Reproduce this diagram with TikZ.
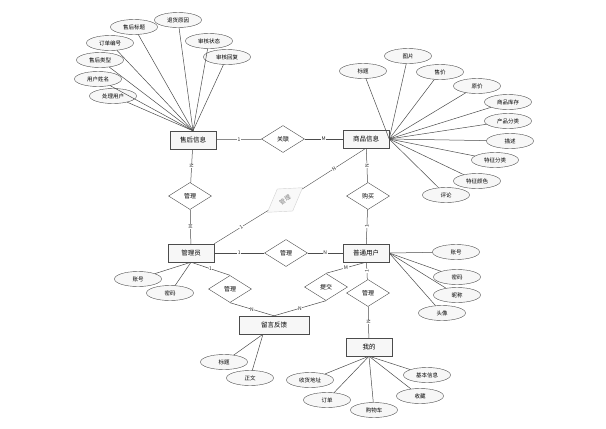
\documentclass[tikz,border=0pt]{standalone}
\usepackage{fontspec}
\setmainfont{Noto Sans CJK SC}
\usetikzlibrary{shapes.geometric,calc,shadows}
\begin{document}
\begin{tikzpicture}[x=1pt,y=-1pt,
 ent/.style={draw=gray!60!black, fill=gray!6, minimum width=46pt, minimum height=18pt, inner sep=0pt, font=\fontsize{6.5}{7}\selectfont, drop shadow={shadow xshift=0.8pt, shadow yshift=-0.8pt, opacity=0.3}},
 attr/.style={ellipse, draw=gray!60!black, fill=gray!6, minimum width=47pt, minimum height=15pt, inner sep=0pt, font=\fontsize{5.5}{6}\selectfont},
 rel/.style={diamond, draw=gray!60!black, fill=white, minimum width=43pt, minimum height=27pt, inner sep=0pt, font=\fontsize{6}{7}\selectfont},
 faint/.style={diamond, draw=gray!35, fill=gray!5, text=gray, minimum width=43pt, minimum height=27pt, inner sep=0pt, font=\fontsize{6}{7}\selectfont, rotate=35},
 ln/.style={draw=gray!60!black, line width=0.5pt},
 card/.style={fill=white, inner sep=0.5pt, font=\fontsize{5}{5}\selectfont, text=gray!30!black},
 vcard/.style={card, rotate=90}]
\useasboundingbox (0,0) rectangle (606,429);
\fill[white] (0,0) rectangle (606,429);

% entities
\node[ent] (sh) at (193,140) {售后信息};
\node[ent] (sp) at (366,139) {商品信息};
\node[ent] (gly) at (191,253) {管理员};
\node[ent] (pt) at (366,253) {普通用户};
\node[ent, minimum width=70pt] (ly) at (274,325) {留言反馈};
\node[ent] (wd) at (369,347) {我的};

% relationships
\node[rel] (gl) at (283,139) {关联};
\node[rel] (r1) at (190,196) {管理};
\node[faint] (r2) at (285,200) {管理};
\node[rel] (r3) at (368,196) {购买};
\node[rel] (r4) at (286,253) {管理};
\node[rel] (r5) at (230,289) {管理};
\node[rel] (r6) at (326,287) {提交};
\node[rel] (r7) at (368,293) {管理};

% attributes of 售后信息
\node[attr] (a1) at (134,27) {售后标题};
\node[attr] (a2) at (178,20) {退货原因};
\node[attr] (a3) at (110,43) {订单编号};
\node[attr] (a4) at (100,60) {售后类型};
\node[attr] (a5) at (98,79) {用户姓名};
\node[attr] (a6) at (113,96) {处理用户};
\node[attr] (a7) at (209,41) {审核状态};
\node[attr] (a8) at (227,57) {审核回复};
\foreach \a in {a1,a2,a3,a4,a5,a6,a7,a8} \draw[ln] (\a) -- (sh.north);

% attributes of 商品信息
\node[attr] (b1) at (363,71) {标题};
\node[attr] (b2) at (408,56) {图片};
\node[attr] (b3) at (440,72) {售价};
\node[attr] (b4) at (477,86) {原价};
\node[attr] (b5) at (508,102) {商品库存};
\node[attr] (b6) at (508,121) {产品分类};
\node[attr] (b7) at (510,141) {描述};
\node[attr] (b8) at (495,160) {特征分类};
\node[attr] (b9) at (477,181) {特征颜色};
\node[attr] (b10) at (446,195) {评论};
\foreach \b in {b1,b2,b3,b4,b5,b6,b7,b8,b9,b10} \draw[ln] (\b) -- (sp.east);

% attributes of 管理员
\node[attr] (c1) at (138,279) {账号};
\node[attr] (c2) at (170,293) {密码};
\foreach \c in {c1,c2} \draw[ln] (\c) -- (gly.south);

% attributes of 普通用户
\node[attr] (d1) at (456,252) {账号};
\node[attr] (d2) at (457,277) {密码};
\node[attr] (d3) at (457,295) {昵称};
\node[attr] (d4) at (442,313) {头像};
\foreach \d in {d1,d2,d3,d4} \draw[ln] (\d) -- (pt.east);

% attributes of 留言反馈
\coordinate (lyb) at ($(ly.south)+(-11,0)$);
\node[attr] (e1) at (224,362) {标题};
\node[attr] (e2) at (250,378) {正文};
\foreach \e in {e1,e2} \draw[ln] (\e) -- (lyb);

% attributes of 我的
\node[attr] (f1) at (310,380) {收货地址};
\node[attr] (f2) at (327,400) {订单};
\node[attr] (f3) at (374,410) {购物车};
\node[attr] (f4) at (420,396) {收藏};
\node[attr] (f5) at (427,375) {基本信息};
\foreach \f in {f1,f2,f3,f4,f5} \draw[ln] (\f) -- (wd.south);

% relationship connectors
\draw[ln] (sh) -- node[card]{1} (gl);
\draw[ln] (gl) -- node[card]{M} (sp);
\draw[ln] (sh) -- node[vcard]{N} (r1);
\draw[ln] (r1) -- node[vcard]{M} (gly);
\draw[draw=gray!60!black, line width=0.4pt] (gly.north east) -- node[card, rotate=35]{1} (r2);
\draw[draw=gray!60!black, line width=0.4pt] (r2) -- node[card, rotate=35]{N} (sp.south);
\draw[ln] (sp) -- node[vcard]{N} (r3);
\draw[ln] (r3) -- node[vcard]{1} (pt);
\draw[ln] (gly) -- node[card]{1} (r4);
\draw[ln] (r4) -- node[card]{N} (pt);
\draw[ln] (gly.south) -- node[card]{1} (r5.north);
\draw[ln] (r5.south) -- node[card]{N} (ly.north);
\draw[ln] (pt.south) -- node[card]{M} (r6.north);
\draw[ln] (r6.south) -- node[card]{N} (ly.north);
\draw[ln] (pt) -- node[vcard]{1} (r7);
\draw[ln] (r7) -- node[vcard]{N} (wd);
\end{tikzpicture}
\end{document}
